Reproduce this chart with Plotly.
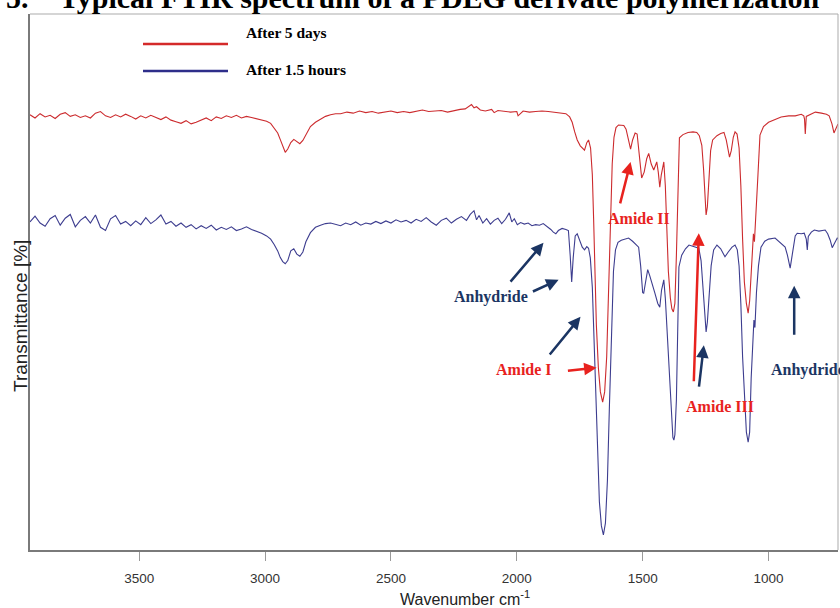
import plotly.graph_objects as go

# ---------------- data ----------------
red_wn = [3934, 3914, 3894, 3874, 3854, 3834, 3814, 3794, 3774, 3754, 3734, 3714, 3694, 3674, 3654,
          3634, 3614, 3594, 3574, 3554, 3534, 3514, 3494, 3474, 3454, 3434, 3414, 3394, 3374, 3354,
          3334, 3314, 3294, 3274, 3254, 3234, 3214, 3194, 3174, 3154, 3134, 3114, 3094, 3074, 3054,
          3034, 3014, 2994, 2978, 2964, 2950, 2940, 2930, 2920, 2910, 2898, 2886, 2874, 2862, 2850,
          2835, 2820, 2800, 2780, 2760, 2740, 2720,
          2700, 2675, 2650, 2625, 2600, 2575, 2550, 2525, 2500, 2475, 2450, 2425, 2400, 2375, 2350,
          2325, 2300, 2275, 2250, 2225, 2205, 2190, 2180, 2170, 2160, 2145, 2125, 2100, 2090, 2075,
          2050, 2025, 2000, 1995, 1975, 1950, 1925, 1900, 1875, 1850, 1825, 1805,
          1790, 1780, 1770, 1760, 1748, 1738, 1731, 1722, 1715, 1707, 1700, 1695, 1690, 1684, 1676,
          1668, 1659, 1651, 1643, 1635, 1628, 1621, 1614, 1606, 1596, 1585, 1575, 1566, 1556, 1548,
          1540, 1530, 1522, 1514, 1504, 1494, 1484, 1476, 1466, 1456, 1448, 1444, 1438, 1432, 1426,
          1420, 1416, 1410, 1404, 1398, 1390, 1384, 1378, 1372, 1366, 1360, 1354, 1340, 1320, 1300,
          1285, 1275, 1265, 1258, 1252, 1248, 1243, 1237, 1230, 1222, 1205, 1190, 1177, 1168, 1160,
          1155, 1148, 1140, 1133, 1125, 1117, 1110, 1103, 1096, 1088, 1081, 1075, 1069, 1064, 1060,
          1056, 1050, 1042, 1034, 1020, 1000, 974, 950, 920, 894, 870, 860, 857, 854, 850,
          830, 814, 790, 770, 759, 748, 740, 733, 727, 724]
red_t = [81.2, 80.6, 81.4, 80.8, 81.1, 80.5, 81.3, 81.6, 80.9, 81.2, 80.7, 81.0, 80.6, 81.5, 81.8,
         81.0, 80.7, 81.2, 80.8, 81.3, 80.9, 80.4, 81.0, 80.6, 81.1, 80.7, 80.3, 80.8, 80.2, 79.9,
         79.6, 80.1, 79.5, 79.8, 80.2, 80.6, 80.1, 80.8, 80.5, 81.0, 80.7, 81.1, 80.6, 80.9, 80.7,
         80.5, 80.3, 80.0, 79.6, 78.8, 77.8, 76.6, 75.3, 74.2, 74.8, 76.0, 76.6, 76.2, 75.8, 76.4,
         77.8, 79.0, 79.8, 80.4, 80.9, 81.2, 81.4,
         81.4, 81.7, 81.5, 81.9, 81.6, 81.8, 81.5, 81.7, 81.9, 81.6, 81.8, 81.6, 81.9, 82.1, 81.8,
         81.9, 82.0, 81.7, 82.0, 82.2, 82.3, 82.8, 83.1, 82.5, 82.7, 82.1, 81.9, 82.2, 81.6, 82.0,
         81.8, 81.7, 81.8, 81.0, 81.9, 81.7, 81.8, 81.9, 81.8, 81.7, 81.6, 81.4,
         80.8, 79.8, 78.0, 76.5, 75.4, 74.8, 74.6, 76.0, 76.5, 75.0, 70.0, 62.0, 52.0, 42.0, 34.0,
         29.5, 27.6, 29.5, 36.0, 48.0, 62.0, 72.0, 77.0, 78.8, 79.3, 79.3, 79.2, 78.5, 76.5, 74.8,
         76.5, 77.8, 77.6, 74.0, 69.4, 70.5, 73.0, 74.0, 72.0, 70.9, 72.0, 72.4, 70.5, 67.7, 70.0,
         72.0, 72.4, 68.0, 60.0, 52.0, 47.0, 45.0, 44.4, 46.0, 55.0, 68.0, 76.9, 77.5, 77.9, 78.0,
         77.9, 77.3, 75.5, 71.0, 64.0, 62.5, 64.0, 70.0, 74.5, 76.5, 77.3, 77.7, 77.9, 76.5, 74.0,
         73.3, 74.5, 77.0, 78.0, 77.6, 75.0, 68.0, 58.0, 50.0, 46.0, 44.2, 46.5, 52.0, 57.0, 59.0,
         57.5, 62.0, 70.0, 77.4, 79.0, 79.8, 80.4, 80.8, 81.0, 81.0, 81.3, 81.0, 80.4, 77.6, 80.9,
         81.4, 81.7, 81.5, 81.3, 81.0, 79.5, 77.8, 78.5, 79.3, 79.5]

blue_wn = [3934, 3914, 3894, 3874, 3854, 3834, 3814, 3794, 3774, 3754, 3734, 3714, 3694, 3674, 3654,
           3634, 3614, 3594, 3574, 3554, 3534, 3514, 3494, 3474, 3454, 3434, 3414, 3394, 3374, 3354,
           3334, 3314, 3294, 3274, 3254, 3234, 3214, 3194, 3174, 3154, 3134, 3114, 3094, 3074, 3054,
           3034, 3014, 2994, 2978, 2964, 2950, 2940, 2930, 2920, 2910, 2898, 2886, 2874, 2862, 2850,
           2838, 2820, 2800, 2780, 2760, 2740,
           2720, 2700, 2680, 2660, 2640, 2620, 2600, 2580, 2560, 2540, 2520, 2500, 2480, 2460, 2440,
           2420, 2400, 2380, 2360, 2340, 2320, 2300, 2280, 2260, 2240, 2220, 2200, 2185, 2170, 2160,
           2150, 2135, 2120, 2105, 2090, 2075, 2060, 2045, 2030, 2020, 2010, 1998, 1985, 1970, 1955,
           1940, 1925, 1910, 1895, 1880, 1865, 1855, 1845, 1835, 1820, 1805,
           1795, 1788, 1782, 1776, 1768, 1760, 1750, 1740, 1731, 1722, 1715, 1708, 1700, 1694, 1688,
           1680, 1672, 1664, 1656, 1648, 1640, 1632, 1624, 1616, 1608, 1598, 1585, 1570, 1556, 1540,
           1525, 1516, 1508, 1500, 1496, 1488, 1480, 1472, 1462, 1452, 1440, 1432, 1425, 1416, 1410,
           1404, 1398, 1392, 1386, 1380, 1376, 1372, 1366, 1360, 1356, 1345, 1330, 1316, 1300, 1285,
           1277, 1268, 1260, 1254, 1248, 1243, 1236, 1228, 1218, 1205, 1190, 1173, 1160, 1145, 1133,
           1124, 1117, 1110, 1103, 1096, 1088, 1081, 1075, 1069, 1063, 1058, 1054, 1048, 1040, 1030,
           1015, 1000, 974, 955, 934, 925, 914, 906, 894, 886, 870, 858, 850, 846, 842,
           830, 818, 800, 775, 765, 755, 747, 740, 727, 724]
blue_t = [61.2, 62.3, 61.0, 60.4, 61.8, 62.4, 60.6, 61.9, 62.6, 60.3, 61.5, 62.2, 61.0, 62.5, 60.2,
          59.6, 61.8, 62.4, 60.8, 61.3, 60.5, 61.4, 60.7, 62.0, 60.9, 61.6, 62.5, 60.8, 61.3, 60.4,
          61.0, 60.2, 60.7, 59.9, 60.5, 60.0, 60.6, 59.7, 60.2, 59.8, 60.3, 59.6, 59.9, 60.3, 59.8,
          59.5, 59.1, 58.6, 58.0, 57.0, 55.8, 54.6, 53.8, 53.4, 54.0, 55.8, 56.2, 55.2, 54.8, 55.6,
          57.5, 59.2, 60.2, 60.6, 60.9, 61.0,
          60.8, 60.5, 61.0, 60.7, 61.2, 60.6, 61.0, 60.8, 61.3, 60.9, 61.4, 61.0, 61.6, 61.2, 61.5,
          61.0, 61.7, 61.3, 62.0, 61.2, 60.6, 61.5, 61.9, 61.0, 61.7, 62.2, 61.5, 62.6, 63.3, 61.6,
          62.4, 61.0, 61.8, 60.8, 61.5, 61.9, 60.9, 61.7, 62.9, 61.2, 61.8, 60.7, 61.1, 60.8, 61.0,
          60.5, 60.7, 60.6, 60.9, 60.4, 59.8, 59.3, 59.0, 59.6, 60.0, 59.8,
          59.6, 55.0, 50.0, 54.5, 58.6, 59.0, 57.8, 56.5, 56.0, 56.6, 56.3, 54.5, 49.0, 40.0, 30.0,
          18.0, 9.0, 4.5, 2.8, 5.0, 13.0, 27.0, 42.0, 52.0, 56.0, 57.4, 57.8, 58.0, 58.2, 57.6,
          56.9, 56.5, 53.0, 48.0, 47.9, 50.0, 52.3, 51.2, 49.8, 48.0, 46.0, 45.3, 48.5, 50.4, 47.0,
          41.6, 36.0, 30.0, 24.0, 21.0, 20.5, 21.5, 28.0, 40.0, 52.8, 55.0, 56.2, 56.9, 56.7, 56.4,
          56.3, 54.0, 48.0, 43.0, 40.7, 42.5, 48.0, 53.0, 56.0, 56.9, 56.2, 54.7, 55.6, 56.5, 56.9,
          56.0, 53.0, 46.0, 36.0, 28.0, 22.0, 20.1, 22.0, 32.0, 40.0, 42.9, 41.5, 48.0, 53.0, 56.5,
          57.6, 58.0, 58.2, 57.3, 56.5, 55.0, 52.6, 55.0, 58.6, 59.1, 59.0, 59.1, 58.0, 56.0, 58.5,
          59.3, 59.7, 59.5, 59.7, 59.0, 57.8, 56.4, 57.0, 58.2, 58.0]

series_names = ["After 5 days", "After 1.5 hours"]
x_ticks = [3500, 3000, 2500, 2000, 1500, 1000]

# label annotations: (text, wavenumber, transmittance, colour-key, anchor)
labels = [
    ("Amide II", 1516, 61.8, "red", "center"),
    ("Amide I", 1970, 33.6, "red", "center"),
    ("Amide III", 1193, 26.7, "red", "center"),
    ("Anhydride", 2101, 47.2, "navy", "center"),
    ("Anhydride", 998, 33.6, "navy", "left"),
]
# arrows: (head wn, head T, tail wn, tail T, colour-key)
arrows = [
    (1548, 72.4, 1591, 64.4, "red"),
    (1683, 34.0, 1803, 33.4, "red"),
    (1277, 59.1, 1297, 31.2, "red"),
    (1257, 38.2, 1277, 30.2, "navy"),
    (1894, 57.3, 2030, 49.8, "navy"),
    (1834, 50.4, 1942, 48.1, "navy"),
    (1747, 43.5, 1874, 36.2, "navy"),
    (898, 49.3, 898, 39.9, "navy"),
]

# ---------------- figure ----------------
RED_LINE = "#cc2b2e"
BLUE_LINE = "#3d3d8f"
ANN = {"red": "#e8221e", "navy": "#1b3563"}
SERIF = "Liberation Serif, Times New Roman, serif"
SANS = "Arial, Liberation Sans, sans-serif"

fig = go.Figure()
fig.add_trace(go.Scatter(x=red_wn, y=red_t, mode="lines", name=series_names[0],
                         line=dict(color=RED_LINE, width=1.1), showlegend=False))
fig.add_trace(go.Scatter(x=blue_wn, y=blue_t, mode="lines", name=series_names[1],
                         line=dict(color=BLUE_LINE, width=1.1), showlegend=False))

W, H = 840, 608
L, R, T, B = 30, 2, 14, 58

fig.update_layout(
    width=W, height=H,
    margin=dict(l=L, r=R, t=T, b=B, pad=0),
    paper_bgcolor="white", plot_bgcolor="white",
    showlegend=False,
    xaxis=dict(range=[3934, 724], tickvals=x_ticks, ticktext=[str(v) for v in x_ticks],
               showgrid=False, zeroline=False, showline=True, linecolor="#7a7a7a", linewidth=2,
               ticks="outside", ticklen=9, tickcolor="#9a9a9a", tickwidth=1,
               ticklabelstandoff=6,
               tickfont=dict(family=SANS, size=13.5, color="#333333")),
    yaxis=dict(range=[0, 100], showgrid=False, zeroline=False, showticklabels=False,
               showline=True, linecolor="#7a7a7a", linewidth=2, ticks=""),
)

# frame top/right (lighter)
fig.add_shape(type="line", xref="paper", yref="paper", x0=0, x1=1, y0=1, y1=1,
              line=dict(color="#ababab", width=1))
fig.add_shape(type="line", xref="paper", yref="paper", x0=1, x1=1, y0=0, y1=1,
              line=dict(color="#ababab", width=1))

pw, ph = W - L - R, H - T - B
def px(x):
    return (x - L) / pw
def py(y):
    return (H - B - y) / ph

# custom legend
for name, col, ly, ty in [(series_names[0], "#d42a2a", 44, 33), (series_names[1], "#2e2e8a", 71, 70)]:
    fig.add_shape(type="line", xref="paper", yref="paper", x0=px(143), x1=px(228), y0=py(ly), y1=py(ly),
                  line=dict(color=col, width=2.5))
    fig.add_annotation(xref="paper", yref="paper", x=px(244), y=py(ty), text="<b>%s</b>" % name,
                       showarrow=False, xanchor="left", yanchor="middle",
                       font=dict(family=SERIF, size=15.5, color="black"))

for text, x, y, c, anc in labels:
    fig.add_annotation(x=x, y=y, xref="x", yref="y", text="<b>%s</b>" % text, showarrow=False,
                       xanchor=anc, yanchor="middle",
                       font=dict(family=SERIF, size=16, color=ANN[c]))

for hx, hy, tx, ty, c in arrows:
    fig.add_annotation(x=hx, y=hy, xref="x", yref="y", ax=tx, ay=ty, axref="x", ayref="y",
                       text="", showarrow=True, arrowhead=2, arrowsize=1, arrowwidth=2.5,
                       arrowcolor=ANN[c], standoff=0)

# axis titles
fig.add_annotation(xref="paper", yref="paper", x=px(465), y=py(598), text="Wavenumber cm<sup>-1</sup>",
                   showarrow=False, xanchor="center", yanchor="middle",
                   font=dict(family=SANS, size=16, color="#222222"))
fig.add_annotation(xref="paper", yref="paper", x=px(20), y=py(316), text="Transmittance [%]",
                   showarrow=False, textangle=-90, xanchor="center", yanchor="middle",
                   font=dict(family=SANS, size=19, color="#222222"))

# cropped heading at the very top
fig.add_annotation(xref="paper", yref="paper", x=px(4), y=py(-3), text="<b>5.</b>",
                   showarrow=False, xanchor="left", yanchor="middle",
                   font=dict(family=SERIF, size=30, color="black"))
fig.add_annotation(xref="paper", yref="paper", x=px(57), y=py(-3),
                   text="<b>Typical FTIR spectrum of a PDEG derivate polymerization</b>",
                   showarrow=False, xanchor="left", yanchor="middle",
                   font=dict(family=SERIF, size=30, color="black"))

fig.write_html("out.html")
